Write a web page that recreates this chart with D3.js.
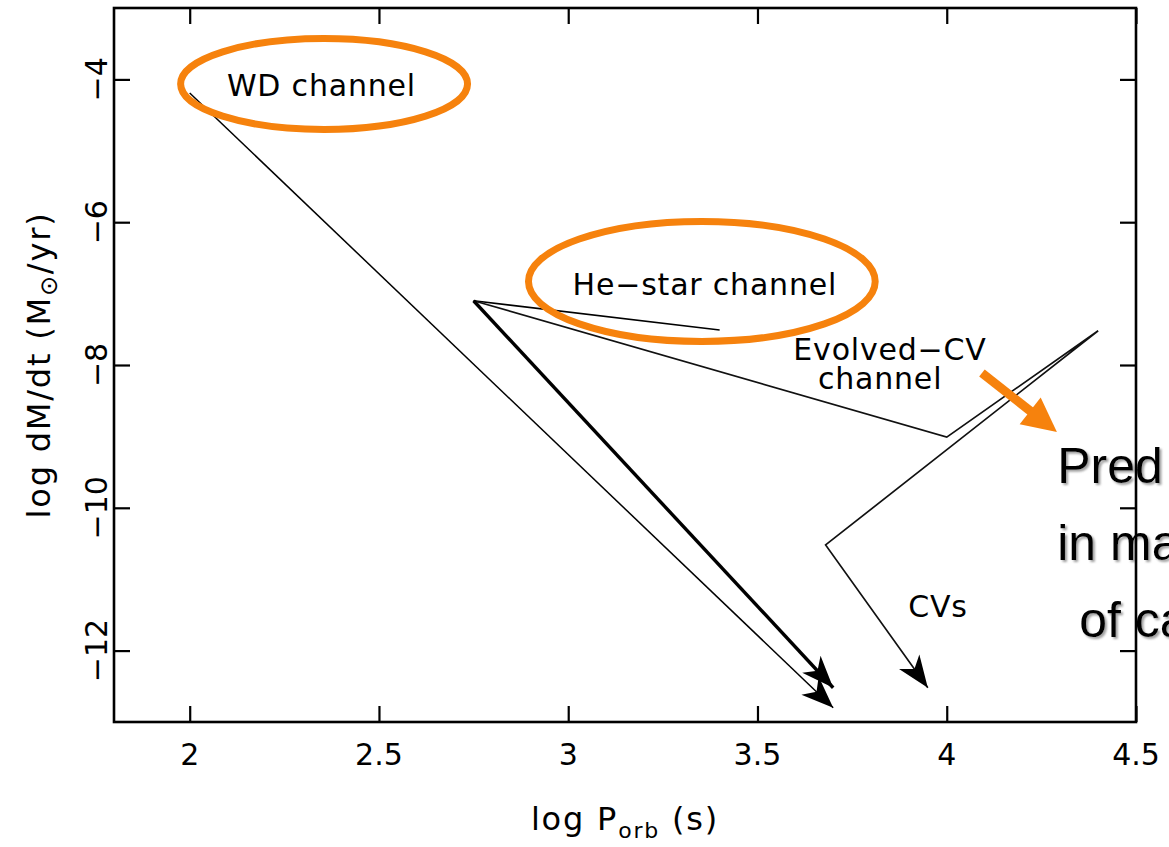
<!DOCTYPE html>
<html>
<head>
<meta charset="utf-8">
<script src="https://cdn.jsdelivr.net/npm/d3@7"></script>
<style>
  body { margin: 0; background: #fff; }
  svg { display: block; }
  .lbl { font-family: "DejaVu Sans", sans-serif; font-size: 30px; fill: #000; }
  .chan { letter-spacing: 0.8px; }
  .title { font-size: 32px; letter-spacing: 1.8px; }
  .big { font-family: "Liberation Sans", Arial, sans-serif; font-size: 50px; fill: #000; }
</style>
</head>
<body>
<script>
//axis ticks
var xTicks = [2, 2.5, 3, 3.5, 4, 4.5],
    yTicks = [-4, -6, -8, -10, -12];

//evolutionary tracks [log P, log dM/dt]
var wdTrack = [[2.0, -4.19], [3.70, -12.80]];
var heStarTrack = [[2.75, -7.10], [3.40, -7.51]];
var heStarDecay = [[2.75, -7.10], [3.70, -12.52]];
var evolvedTrack = [[2.75, -7.10], [4.00, -9.01], [4.40, -7.52], [3.68, -10.52], [3.95, -12.52]];

//channel labels [text, x, y]
var channelLabels = [
    ["WD channel", 2.348, -4.23],
    ["He\u2212star channel", 3.361, -7.02],
    ["Evolved\u2212CV", 3.850, -7.93],
    ["channel", 3.824, -8.33],
    ["CVs", 3.977, -11.53]
];

//orange highlight ellipses [cx, cy, rx, ry] in data units
var highlights = [
    [2.355, -4.064, 0.379, 0.637],
    [3.353, -6.830, 0.458, 0.840]
];
var pointer = [[4.093, -8.112], [4.291, -8.938]];

//slide text running off the page [text, x, y]
var slideText = [
    ["Pred", 4.292, -9.653],
    ["in ma", 4.292, -10.731],
    ["of ca", 4.350, -11.81]
];

drawChart();

function drawChart(){
    var width = 1169, height = 847;
    var pLeft = 114, pRight = 1136, pTop = 8, pBottom = 722;
    var orange = "#f6820d";

    var svg = d3.select("body").append("svg")
        .attr("width", width)
        .attr("height", height);

    var x = d3.scaleLinear().domain([1.8, 4.5]).range([pLeft, pRight]);
    var y = d3.scaleLinear().domain([-13, -3]).range([pBottom, pTop]);

    //shadow for the slide text
    var defs = svg.append("defs");
    defs.append("filter").attr("id", "shadow")
        .attr("x", "-10%").attr("y", "-10%").attr("width", "130%").attr("height", "140%")
        .append("feDropShadow")
        .attr("dx", 2).attr("dy", 2).attr("stdDeviation", 1)
        .attr("flood-color", "#888").attr("flood-opacity", 0.8);

    svg.selectAll(".big")
        .data(slideText)
        .enter()
        .append("text")
        .attr("class", "big")
        .attr("x", function(d){ return x(d[1]); })
        .attr("y", function(d){ return y(d[2]); })
        .attr("filter", "url(#shadow)")
        .text(function(d){ return d[0]; });

    //frame
    svg.append("rect")
        .attr("x", pLeft).attr("y", pTop)
        .attr("width", pRight - pLeft).attr("height", pBottom - pTop)
        .attr("fill", "none").attr("stroke", "#000").attr("stroke-width", 2.6);

    //inward ticks on all four sides
    var tl = 16;
    var axB = d3.axisBottom(x).tickValues(xTicks).tickSizeInner(-tl).tickSizeOuter(0).tickFormat("");
    var axT = d3.axisTop(x).tickValues(xTicks).tickSizeInner(-tl).tickSizeOuter(0).tickFormat("");
    var axL = d3.axisLeft(y).tickValues(yTicks).tickSizeInner(-tl).tickSizeOuter(0).tickFormat("");
    var axR = d3.axisRight(y).tickValues(yTicks).tickSizeInner(-tl).tickSizeOuter(0).tickFormat("");
    [[axB, "translate(0," + pBottom + ")"], [axT, "translate(0," + pTop + ")"],
     [axL, "translate(" + pLeft + ",0)"], [axR, "translate(" + pRight + ",0)"]].forEach(function(a){
        var g = svg.append("g").attr("transform", a[1]).call(a[0]);
        g.select(".domain").remove();
        g.selectAll("line").attr("stroke", "#000").attr("stroke-width", 2.2);
    });

    //tick labels
    svg.selectAll(".xlab")
        .data(xTicks)
        .enter()
        .append("text")
        .attr("class", "lbl")
        .attr("x", function(d){ return x(d); })
        .attr("y", 765)
        .attr("text-anchor", "middle")
        .text(function(d){ return d; });

    svg.selectAll(".ylab")
        .data(yTicks)
        .enter()
        .append("text")
        .attr("class", "lbl")
        .attr("transform", function(d){ return "translate(107," + y(d) + ") rotate(-90)"; })
        .attr("text-anchor", "middle")
        .text(function(d){ return "\u2212" + Math.abs(d); });

    //axis titles
    var xt = svg.append("text").attr("class", "lbl title")
        .attr("x", (pLeft + pRight) / 2).attr("y", 830)
        .attr("text-anchor", "middle");
    xt.append("tspan").text("log P");
    xt.append("tspan").attr("dy", 8).style("font-size", "22px").text("orb");
    xt.append("tspan").attr("dy", -8).text(" (s)");

    var yt = svg.append("text").attr("class", "lbl title")
        .attr("transform", "translate(50," + ((pTop + pBottom) / 2) + ") rotate(-90)")
        .attr("text-anchor", "middle");
    yt.append("tspan").text("log dM/dt (M");
    yt.append("tspan").attr("dy", 7).style("font-size", "24px").text("\u2299");
    yt.append("tspan").attr("dy", -7).text("/yr)");

    //tracks
    var line = d3.line()
        .x(function(d){ return x(d[0]); })
        .y(function(d){ return y(d[1]); });

    function arrowHead(track, len, half){
        var a = track[track.length - 2], b = track[track.length - 1];
        var x0 = x(a[0]), y0 = y(a[1]), x1 = x(b[0]), y1 = y(b[1]);
        var ang = Math.atan2(y1 - y0, x1 - x0);
        var c = Math.cos(ang), s = Math.sin(ang);
        var bx = x1 - len * c, by = y1 - len * s;
        var nx = x1 - len * 0.72 * c, ny = y1 - len * 0.72 * s;
        return "M" + x1 + "," + y1 +
            "L" + (bx - half * s) + "," + (by + half * c) +
            "L" + nx + "," + ny +
            "L" + (bx + half * s) + "," + (by - half * c) + "Z";
    }

    var tracks = [
        [wdTrack, 1.5, "#000", true],
        [heStarTrack, 1.6, "#000", false],
        [evolvedTrack, 1.7, "#111", true],
        [heStarDecay, 3.4, "#000", true]
    ];

    tracks.forEach(function(t){
        svg.append("path")
            .datum(t[0])
            .attr("class", "track")
            .attr("d", line)
            .attr("fill", "none")
            .attr("stroke", t[2])
            .attr("stroke-width", t[1])
            .attr("stroke-linejoin", "miter");
        if (t[3]) {
            svg.append("path")
                .attr("d", arrowHead(t[0], 32, 12.5))
                .attr("fill", "#000");
        }
    });

    //channel labels
    svg.selectAll(".chanlbl")
        .data(channelLabels)
        .enter()
        .append("text")
        .attr("class", "lbl chan")
        .attr("x", function(d){ return x(d[1]); })
        .attr("y", function(d){ return y(d[2]); })
        .attr("text-anchor", "middle")
        .text(function(d){ return d[0]; });

    //orange highlights
    svg.selectAll(".hl")
        .data(highlights)
        .enter()
        .append("ellipse")
        .attr("cx", function(d){ return x(d[0]); })
        .attr("cy", function(d){ return y(d[1]); })
        .attr("rx", function(d){ return x(d[0] + d[2]) - x(d[0]); })
        .attr("ry", function(d){ return y(d[1] - d[3]) - y(d[1]); })
        .attr("fill", "none")
        .attr("stroke", orange)
        .attr("stroke-width", 7);

    //orange pointer arrow
    var px0 = x(pointer[0][0]), py0 = y(pointer[0][1]),
        px1 = x(pointer[1][0]), py1 = y(pointer[1][1]);
    var pa = Math.atan2(py1 - py0, px1 - px0),
        pc = Math.cos(pa), ps = Math.sin(pa);
    var headLen = 34, headHalf = 17;
    svg.append("line")
        .attr("x1", px0).attr("y1", py0)
        .attr("x2", px1 - headLen * 0.8 * pc).attr("y2", py1 - headLen * 0.8 * ps)
        .attr("stroke", orange).attr("stroke-width", 9);
    svg.append("path")
        .attr("d", "M" + px1 + "," + py1 +
            "L" + (px1 - headLen * pc - headHalf * ps) + "," + (py1 - headLen * ps + headHalf * pc) +
            "L" + (px1 - headLen * pc + headHalf * ps) + "," + (py1 - headLen * ps - headHalf * pc) + "Z")
        .attr("fill", orange);
}
</script>
</body>
</html>
